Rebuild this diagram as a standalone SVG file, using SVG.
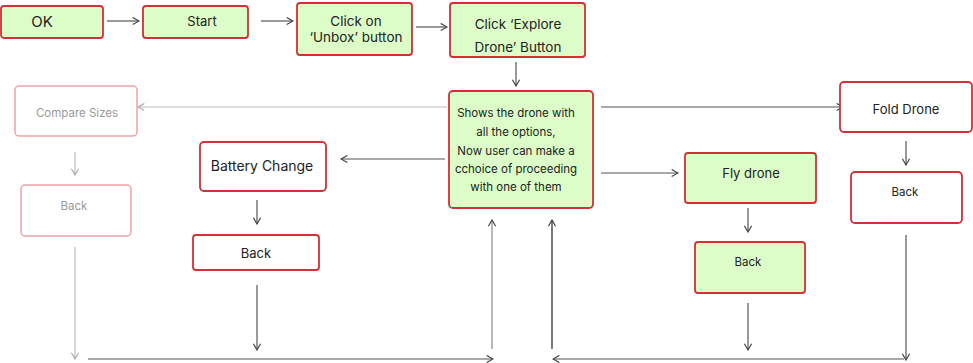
<svg xmlns="http://www.w3.org/2000/svg" width="973" height="363" viewBox="0 0 973 363">
<defs>
<marker id="ah" viewBox="0 0 10 10" refX="9" refY="5" markerWidth="9" markerHeight="9" markerUnits="userSpaceOnUse" orient="auto">
<path d="M2,1 L9,5 L2,9" fill="none" stroke="#444" stroke-width="1.3"/>
</marker>
<marker id="ahl" viewBox="0 0 10 10" refX="9" refY="5" markerWidth="9" markerHeight="9" markerUnits="userSpaceOnUse" orient="auto">
<path d="M2,1 L9,5 L2,9" fill="none" stroke="#aaa" stroke-width="1.3"/>
</marker>
</defs>
<style>
text{font-family:Inter,"Open Sans","Liberation Sans",sans-serif;fill:#222;text-anchor:middle}
.g{fill:#ddfdc8;stroke:#d32f35;stroke-width:1.8}
.w{fill:#fff;stroke:#d32f35;stroke-width:1.8}
.p{fill:#fff;stroke:#eda3a6;stroke-width:1.5}
.pt{fill:#999}
.c{fill:none;stroke:#555;stroke-width:1.2}
.cd{fill:none;stroke:#222;stroke-width:1.2}
.cg{fill:none;stroke:#888;stroke-width:1.2}
.cl{fill:none;stroke:#bbb;stroke-width:1.2}
</style>
<rect width="973" height="363" fill="#fff"/>
<g id="connectors">
<line class="c" x1="107" y1="21" x2="139" y2="21" marker-end="url(#ah)"/>
<line class="c" x1="261" y1="21" x2="293" y2="21" marker-end="url(#ah)"/>
<line class="c" x1="416" y1="27" x2="447" y2="27" marker-end="url(#ah)"/>
<line class="c" x1="516" y1="62" x2="516" y2="86" marker-end="url(#ah)"/>
<line class="cl" x1="447" y1="107" x2="138" y2="107" marker-end="url(#ahl)"/>
<line class="c" x1="445" y1="159" x2="341" y2="159" marker-end="url(#ah)"/>
<line class="c" x1="601" y1="107" x2="843" y2="107" marker-end="url(#ah)"/>
<line class="c" x1="601" y1="173" x2="678" y2="173" marker-end="url(#ah)"/>
<line class="cl" x1="75" y1="152" x2="75" y2="175" marker-end="url(#ahl)"/>
<line class="c" x1="257" y1="200" x2="257" y2="224" marker-end="url(#ah)"/>
<line class="c" x1="748" y1="208" x2="748" y2="232" marker-end="url(#ah)"/>
<line class="c" x1="906" y1="141" x2="906" y2="165" marker-end="url(#ah)"/>
<line class="cl" x1="75" y1="247" x2="75" y2="359" marker-end="url(#ahl)"/>
<line class="c" x1="257" y1="285" x2="257" y2="350" marker-end="url(#ah)"/>
<line class="c" x1="88" y1="359" x2="493" y2="359" marker-end="url(#ah)"/>
<line class="cg" x1="492" y1="349" x2="492" y2="220" marker-end="url(#ah)"/>
<line class="cd" x1="552" y1="349" x2="552" y2="220" marker-end="url(#ah)"/>
<line class="c" x1="904" y1="359" x2="553" y2="359" marker-end="url(#ah)"/>
<line class="c" x1="748" y1="303" x2="748" y2="350" marker-end="url(#ah)"/>
<line class="c" x1="906" y1="235" x2="906" y2="360" marker-end="url(#ah)"/>
</g>
<g id="ok"><rect class="g" x="1" y="6" width="102" height="32" rx="3"/><text x="42" y="27" font-size="15">OK</text></g>
<g id="start"><rect class="g" x="143" y="6" width="105" height="32" rx="3"/><text x="202" y="26" font-size="13">Start</text></g>
<g id="unbox"><rect class="g" x="297" y="3" width="115" height="52" rx="3"/><text x="356" y="26" font-size="13.5">Click on</text><text x="356" y="42" font-size="13.5">‘Unbox’ button</text></g>
<g id="explore"><rect class="g" x="450" y="3" width="135" height="54" rx="3"/><text x="518" y="29" font-size="13.5">Click ‘Explore</text><text x="518" y="52" font-size="13.5">Drone’ Button</text></g>
<g id="main"><rect class="g" x="449" y="91" width="144" height="117" rx="4"/>
<text font-size="11.5"><tspan x="516" y="117">Shows the drone with</tspan><tspan x="516" y="136">all the options,</tspan><tspan x="516" y="155">Now user can make a</tspan><tspan x="516" y="173">cchoice of proceeding</tspan><tspan x="516" y="191">with one of them</tspan></text></g>
<g id="compare"><rect class="p" x="15" y="86" width="122" height="50" rx="4"/><text class="pt" x="77" y="117" font-size="11.5">Compare Sizes</text></g>
<g id="back1"><rect class="p" x="21" y="185" width="110" height="51" rx="4"/><text class="pt" x="74" y="210" font-size="11.5">Back</text></g>
<g id="battery"><rect class="w" x="200" y="142" width="126" height="49" rx="4"/><text x="262" y="171" font-size="14">Battery Change</text></g>
<g id="back2"><rect class="w" x="193" y="235" width="126" height="35" rx="3"/><text x="256" y="258" font-size="13">Back</text></g>
<g id="fly"><rect class="g" x="685" y="153" width="131" height="50" rx="3"/><text x="751" y="178" font-size="13">Fly drone</text></g>
<g id="back3"><rect class="g" x="695" y="242" width="110" height="51" rx="3"/><text x="748" y="266" font-size="11.5">Back</text></g>
<g id="fold"><rect class="w" x="840" y="82" width="132" height="50" rx="4"/><text x="906" y="114" font-size="13">Fold Drone</text></g>
<g id="back4"><rect class="w" x="851" y="172" width="111" height="51" rx="4"/><text x="905" y="196" font-size="11.5">Back</text></g>
</svg>
